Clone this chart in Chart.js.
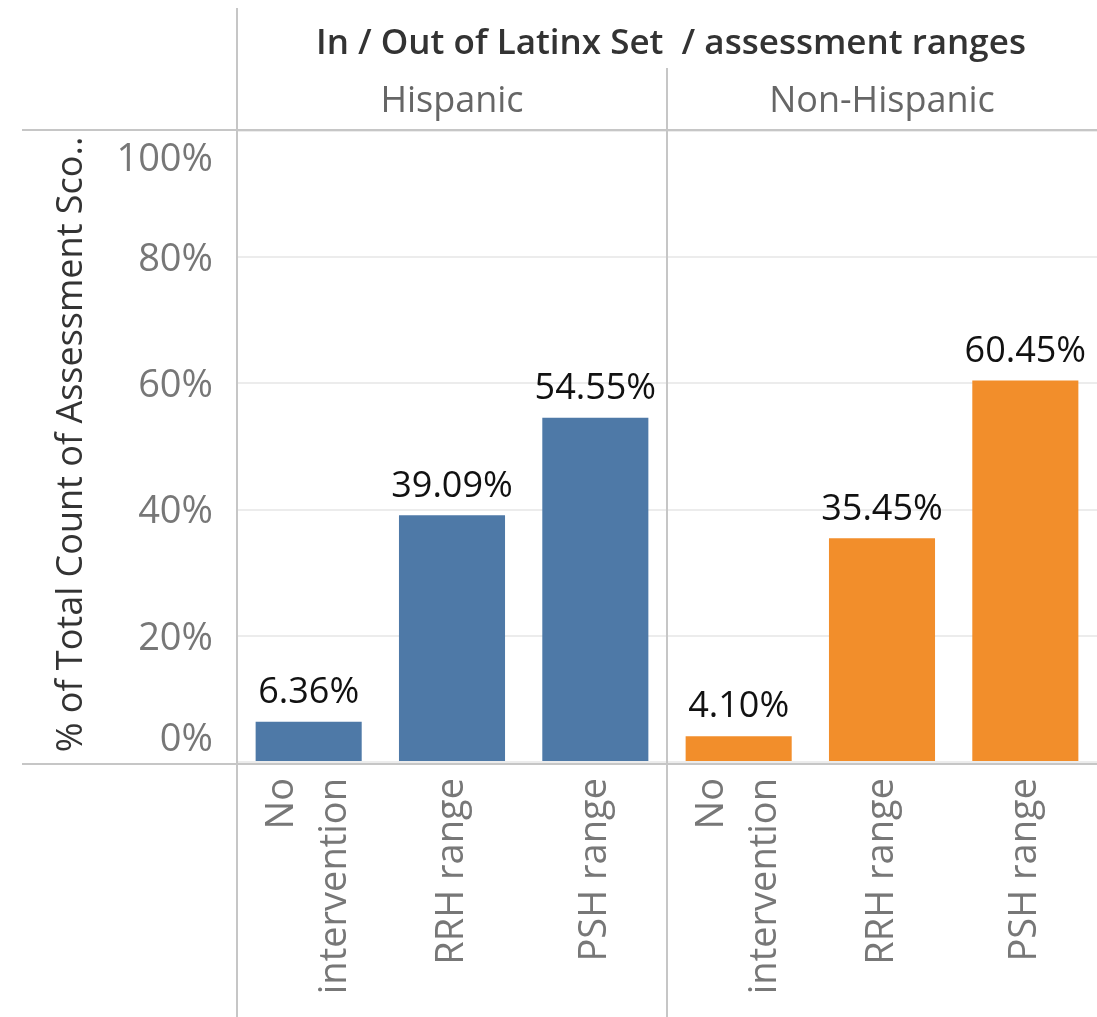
<!DOCTYPE html>
<html>
<head>
<meta charset="utf-8">
<script src="https://cdn.jsdelivr.net/npm/chart.js@4"></script>
<style>
  html, body { margin: 0; padding: 0; background: #fff; }
  canvas { display: block; }
</style>
</head>
<body>
<canvas id="chart" width="1097" height="1017"></canvas>
<script>
// data
const categories = [['No', 'intervention'], 'RRH range', 'PSH range'];
const groups = ['Hispanic', 'Non-Hispanic'];
const hispanic = [6.36, 39.09, 54.55];
const nonHispanic = [4.10, 35.45, 60.45];
const yTicks = [0, 20, 40, 60, 80, 100];

const groupColors = ['#4e79a7', '#f28e2b'];
const FONT = '"Open Sans", sans-serif';
const LINE = '#c6c6c6';

const labels = categories.concat(categories);
const values = hispanic.concat(nonHispanic);
const colors = hispanic.map(() => groupColors[0]).concat(nonHispanic.map(() => groupColors[1]));

const tableauPlugin = {
    id: 'tableau',
    afterDraw(chart) {
        const ctx = chart.ctx;
        const area = chart.chartArea;
        const x = chart.scales.x;
        const y = chart.scales.y;
        const W = chart.width, H = chart.height;
        const split = (x.getPixelForValue(2) + x.getPixelForValue(3)) / 2;
        const base = y.getPixelForValue(0);

        ctx.save();
        // frame lines
        ctx.strokeStyle = LINE;
        ctx.lineWidth = 2;
        ctx.beginPath();
        ctx.moveTo(area.left, 8); ctx.lineTo(area.left, H);
        ctx.moveTo(split, 68); ctx.lineTo(split, H);
        ctx.moveTo(22, area.top - 1); ctx.lineTo(W, area.top - 1);
        ctx.moveTo(22, base + 2); ctx.lineTo(W, base + 2);
        ctx.stroke();

        // header
        ctx.textAlign = 'center';
        ctx.textBaseline = 'middle';
        ctx.fillStyle = '#333';
        ctx.font = '600 35px ' + FONT;
        ctx.fillText('In / Out of Latinx Set  / assessment ranges', 671, 44);
        ctx.fillStyle = '#666';
        ctx.font = '36px ' + FONT;
        ctx.fillText(groups[0], (area.left + split) / 2, 102);
        ctx.fillText(groups[1], (split + area.right) / 2, 102);

        // y tick labels (Tableau nudges the end labels inside the pane)
        ctx.textAlign = 'right';
        ctx.fillStyle = '#777';
        ctx.font = '38px ' + FONT;
        yTicks.forEach(v => {
            let py = y.getPixelForValue(v) + 3;
            py = Math.min(Math.max(py, area.top + 29), area.bottom - 22);
            ctx.fillText(v + '%', 213, py);
        });

        // y axis title
        ctx.save();
        ctx.translate(72, (area.top + area.bottom) / 2 - 2);
        ctx.rotate(-Math.PI / 2);
        ctx.textAlign = 'center';
        ctx.fillStyle = '#333';
        ctx.font = '36px ' + FONT;
        ctx.fillText('% of Total Count of Assessment Sco..', 0, 0);
        ctx.restore();

        // x category labels, rotated, lines centred on the bar
        ctx.fillStyle = '#777';
        ctx.font = '38px ' + FONT;
        labels.forEach((lab, i) => {
            const lines = Array.isArray(lab) ? lab : [lab];
            const px = x.getPixelForValue(i);
            const step = 53;
            lines.forEach((ln, j) => {
                const cx = px + (j - (lines.length - 1) / 2) * step;
                ctx.save();
                ctx.translate(cx, base + 16);
                ctx.rotate(-Math.PI / 2);
                ctx.textAlign = 'right';
                ctx.textBaseline = 'middle';
                ctx.fillText(ln, 0, 0);
                ctx.restore();
            });
        });

        // value labels above bars
        const meta = chart.getDatasetMeta(0);
        ctx.textAlign = 'center';
        ctx.textBaseline = 'middle';
        ctx.fillStyle = '#111';
        ctx.font = '36px ' + FONT;
        meta.data.forEach((bar, i) => {
            ctx.fillText(values[i].toFixed(2) + '%', bar.x, bar.y - 29);
        });
        ctx.restore();
    }
};

new Chart(document.getElementById('chart'), {
    type: 'bar',
    data: {
        labels: labels,
        datasets: [{
            data: values,
            backgroundColor: colors,
            borderWidth: 0,
            categoryPercentage: 1,
            barPercentage: 0.74
        }]
    },
    options: {
        responsive: false,
        animation: false,
        devicePixelRatio: 1,
        layout: { padding: { top: 131, right: 0, left: 0, bottom: 0 } },
        plugins: {
            legend: { display: false },
            tooltip: { enabled: false }
        },
        scales: {
            x: {
                grid: { display: false },
                border: { display: false },
                ticks: { display: false },
                afterFit: s => { s.height = 255; }
            },
            y: {
                min: 0,
                max: 100,
                ticks: { display: false, stepSize: 20 },
                grid: { color: '#ececec', lineWidth: 2, drawTicks: false },
                border: { display: false },
                afterFit: s => { s.width = 237; }
            }
        }
    },
    plugins: [tableauPlugin]
});
</script>
</body>
</html>
